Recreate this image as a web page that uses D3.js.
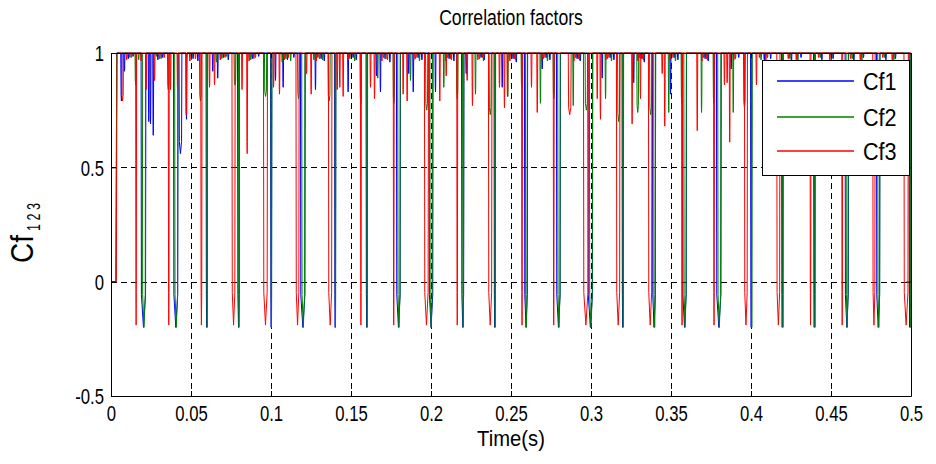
<!DOCTYPE html>
<html>
<head>
<meta charset="utf-8">
<title>Correlation factors</title>
<script src="https://d3js.org/d3.v7.min.js"></script>
<style>
  body { margin: 0; background: #fff; }
  text { font-family: "Liberation Sans", Arial, sans-serif; fill: #000; }
</style>
</head>
<body>
<div id="chart"></div>
<script>
// ---- data ----
var xTicks = [0, 0.05, 0.1, 0.15, 0.2, 0.25, 0.3, 0.35, 0.4, 0.45, 0.5];
var yTicks = [-0.5, 0, 0.5, 1];
var xTickLabels = ["0", "0.05", "0.1", "0.15", "0.2", "0.25", "0.3", "0.35", "0.4", "0.45", "0.5"];
var yTickLabels = ["-0.5", "0", "0.5", "1"];
var seriesNames = ["Cf1", "Cf2", "Cf3"];
var seriesColors = ["#0000ff", "#008000", "#ff0000"];

// every factor sits at 0 until this time, then jumps to 1
var startHold = [0.0031, 0.0031, 0.0033];

// deep dips [time, value, duration]
var cf1Deep = [[0.0188,-0.2,0.0030],[0.0391,-0.2,0.0028],[0.0594,-0.2,0.0008],[0.0791,-0.2,0.0012],
  [0.0997,-0.2,0.0008],[0.1184,-0.2,0.0030],[0.1397,-0.2,0.0008],[0.1594,-0.2,0.0008],[0.1784,-0.2,0.0025],
  [0.1988,-0.2,0.0025],[0.2191,-0.2,0.0015],[0.2394,-0.2,0.0008],[0.2584,-0.2,0.0020],[0.2784,-0.2,0.0025],
  [0.2981,-0.2,0.0030],[0.3194,-0.2,0.0008],[0.3384,-0.2,0.0020],[0.3572,-0.2,0.0025],[0.3784,-0.2,0.0030],
  [0.3997,-0.2,0.0008],[0.4191,-0.2,0.0008],[0.4391,-0.2,0.0008],[0.4588,-0.2,0.0022],[0.4784,-0.2,0.0022],
  [0.4988,-0.2,0.0008]];
var cf2Deep = [[0.0196,-0.2,0.0020],[0.0398,-0.2,0.0020],[0.0598,-0.2,0.0006],[0.0797,-0.2,0.0006],
  [0.1000,-0.2,0.0006],[0.1192,-0.2,0.0020],[0.1400,-0.2,0.0006],[0.1598,-0.2,0.0006],[0.1792,-0.2,0.0016],
  [0.1993,-0.2,0.0016],[0.2197,-0.2,0.0008],[0.2398,-0.2,0.0006],[0.2590,-0.2,0.0012],[0.2792,-0.2,0.0016],
  [0.2990,-0.2,0.0020],[0.3198,-0.2,0.0006],[0.3392,-0.2,0.0012],[0.3580,-0.2,0.0016],[0.3792,-0.2,0.0020],
  [0.4002,-0.2,0.0006],[0.4197,-0.2,0.0006],[0.4397,-0.2,0.0006],[0.4594,-0.2,0.0014],[0.4792,-0.2,0.0014],
  [0.4994,-0.2,0.0006]];
var cf3Deep = [[0.0154,-0.19,0.0006],[0.0358,-0.19,0.0006],[0.0561,-0.19,0.0008],[0.0756,-0.19,0.0020],
  [0.0953,-0.19,0.0025],[0.1156,-0.19,0.0020],[0.1359,-0.19,0.0022],[0.1559,-0.19,0.0006],[0.1764,-0.19,0.0006],
  [0.1959,-0.19,0.0025],[0.2161,-0.19,0.0006],[0.2359,-0.19,0.0022],[0.2566,-0.19,0.0006],[0.2764,-0.19,0.0006],
  [0.2953,-0.19,0.0030],[0.3159,-0.19,0.0022],[0.3359,-0.19,0.0022],[0.3566,-0.19,0.0006],[0.3766,-0.19,0.0006],
  [0.3959,-0.19,0.0019],[0.4161,-0.19,0.0020],[0.4369,-0.19,0.0006],[0.4567,-0.19,0.0006],[0.4761,-0.19,0.0015],
  [0.4956,-0.19,0.0027]];

// partial dips [time, value, duration]
var cf1Mid = [[0.0061,0.79,0.0008],[0.0081,0.92,0.0006],[0.0233,0.70,0.0006],[0.0244,0.69,0.0006],
  [0.0261,0.64,0.0006],[0.0425,0.56,0.0018],[0.0469,0.71,0.0006],[0.0633,0.92,0.0006],[0.0664,0.89,0.0006],
  [0.1025,0.88,0.0006],[0.1073,0.85,0.0006],[0.1275,0.84,0.0006],[0.1479,0.83,0.0006],[0.1656,0.90,0.0006],
  [0.1681,0.83,0.0006],[0.1858,0.91,0.0006],[0.1886,0.83,0.0006],[0.2025,0.83,0.0006],[0.2217,0.91,0.0006],
  [0.2442,0.85,0.0006],[0.2692,0.93,0.0006],[0.3067,0.89,0.0006],[0.3264,0.87,0.0006],[0.3494,0.82,0.0006],
  [0.3873,0.93,0.0006]];
var cf2Mid = [[0.0150,0.86,0.0010],[0.0353,0.84,0.0010],[0.0553,0.79,0.0012],[0.0656,0.96,0.0006],
  [0.0769,0.86,0.0012],[0.0959,0.81,0.0014],[0.1067,0.96,0.0006],[0.1166,0.80,0.0012],[0.1265,0.97,0.0006],
  [0.1356,0.79,0.0014],[0.1556,0.78,0.0010],[0.1664,0.89,0.0006],[0.1763,0.78,0.0010],[0.1869,0.88,0.0006],
  [0.1966,0.75,0.0014],[0.2077,0.85,0.0006],[0.2159,0.80,0.0010],[0.2275,0.82,0.0006],[0.2363,0.73,0.0014],
  [0.2477,0.81,0.0006],[0.2563,0.85,0.0010],[0.2681,0.78,0.0006],[0.2763,0.80,0.0010],[0.2886,0.77,0.0006],
  [0.2963,0.75,0.0016],[0.3088,0.80,0.0006],[0.3166,0.70,0.0014],[0.3286,0.74,0.0012],[0.3366,0.73,0.0014],
  [0.3483,0.74,0.0006],[0.3563,0.78,0.0010],[0.3688,0.74,0.0006],[0.3763,0.78,0.0010],[0.3886,0.74,0.0006],
  [0.3953,0.76,0.0012]];
var cf3Mid = [[0.0066,0.79,0.0012],[0.0217,0.84,0.0006],[0.0269,0.88,0.0006],[0.0369,0.84,0.0006],
  [0.0413,0.84,0.0006],[0.0467,0.73,0.0006],[0.0613,0.85,0.0006],[0.0644,0.86,0.0006],[0.0816,0.84,0.0006],
  [0.0848,0.56,0.0006],[0.1013,0.85,0.0006],[0.1050,0.82,0.0006],[0.1219,0.91,0.0006],[0.1248,0.82,0.0006],
  [0.1411,0.84,0.0006],[0.1427,0.85,0.0006],[0.1448,0.81,0.0006],[0.1619,0.85,0.0006],[0.1644,0.80,0.0006],
  [0.1823,0.82,0.0006],[0.1848,0.79,0.0006],[0.2052,0.79,0.0006],[0.2092,0.90,0.0006],[0.2223,0.88,0.0006],
  [0.2256,0.77,0.0006],[0.2425,0.85,0.0006],[0.2456,0.76,0.0006],[0.2475,0.81,0.0006],[0.2625,0.85,0.0006],
  [0.2661,0.74,0.0006],[0.2858,0.73,0.0018],[0.3036,0.80,0.0006],[0.3056,0.71,0.0006],[0.3254,0.69,0.0006],
  [0.3306,0.80,0.0006],[0.3442,0.91,0.0006],[0.3458,0.68,0.0006],[0.3661,0.66,0.0006],[0.3831,0.86,0.0006],
  [0.3848,0.87,0.0006],[0.3864,0.61,0.0006],[0.4031,0.86,0.0006]];

// small ripple along the top [time, value]
var cf1Ripple = [[0.0105,0.975],[0.0135,0.985],[0.0290,0.97],[0.0320,0.98],[0.0510,0.975],[0.0540,0.965],
  [0.0700,0.98],[0.0730,0.97],[0.0880,0.975],[0.0920,0.985],[0.1100,0.97],[0.1140,0.98],[0.1310,0.975],
  [0.1330,0.965],[0.1510,0.98],[0.1530,0.97],[0.1710,0.975],[0.1740,0.96],[0.1920,0.98],[0.1940,0.97],
  [0.2110,0.975],[0.2140,0.965],[0.2310,0.98],[0.2330,0.97],[0.2510,0.975],[0.2530,0.96],[0.2720,0.98],
  [0.2740,0.97],[0.2910,0.975],[0.2930,0.965],[0.3120,0.98],[0.3140,0.97],[0.3310,0.975],[0.3330,0.96],
  [0.3520,0.98],[0.3540,0.97],[0.3710,0.975],[0.3730,0.965],[0.3920,0.98],[0.4080,0.97],[0.4120,0.975],
  [0.4250,0.965],[0.4310,0.98],[0.4440,0.97],[0.4510,0.975],[0.4640,0.965],[0.4700,0.98],[0.4840,0.97],
  [0.4900,0.975]];
var cf2Ripple = [[0.0115,0.98],[0.0170,0.97],[0.0280,0.985],[0.0310,0.975],[0.0470,0.98],[0.0500,0.97],
  [0.0690,0.975],[0.0720,0.985],[0.0870,0.97],[0.0900,0.98],[0.1090,0.975],[0.1120,0.965],[0.1290,0.98],
  [0.1320,0.97],[0.1490,0.975],[0.1520,0.965],[0.1700,0.98],[0.1725,0.97],[0.1900,0.975],[0.1925,0.965],
  [0.2100,0.98],[0.2125,0.97],[0.2300,0.975],[0.2325,0.965],[0.2500,0.98],[0.2525,0.97],[0.2700,0.975],
  [0.2725,0.965],[0.2900,0.98],[0.2925,0.97],[0.3100,0.975],[0.3125,0.965],[0.3300,0.98],[0.3325,0.97],
  [0.3500,0.975],[0.3525,0.965],[0.3700,0.98],[0.3725,0.97],[0.3900,0.975],[0.4060,0.97],[0.4100,0.98],
  [0.4240,0.975],[0.4290,0.965],[0.4430,0.98],[0.4500,0.97],[0.4630,0.975],[0.4690,0.965],[0.4830,0.98],
  [0.4890,0.97]];
var cf3Ripple = [[0.0095,0.97],[0.0125,0.98],[0.0185,0.965],[0.0300,0.975],[0.0330,0.98],[0.0490,0.965],
  [0.0525,0.975],[0.0680,0.97],[0.0710,0.98],[0.0860,0.965],[0.0890,0.975],[0.1080,0.97],[0.1105,0.98],
  [0.1280,0.965],[0.1300,0.975],[0.1480,0.97],[0.1500,0.98],[0.1690,0.965],[0.1715,0.975],[0.1890,0.97],
  [0.1910,0.98],[0.2090,0.965],[0.2120,0.975],[0.2290,0.97],[0.2320,0.98],[0.2490,0.965],[0.2520,0.975],
  [0.2690,0.97],[0.2710,0.98],[0.2890,0.965],[0.2920,0.975],[0.3090,0.97],[0.3110,0.98],[0.3290,0.965],
  [0.3320,0.975],[0.3490,0.97],[0.3510,0.98],[0.3690,0.965],[0.3720,0.975],[0.3890,0.97],[0.4050,0.98],
  [0.4090,0.965],[0.4230,0.975],[0.4280,0.97],[0.4420,0.98],[0.4490,0.965],[0.4620,0.975],[0.4680,0.97],
  [0.4820,0.98],[0.4880,0.965]];

// ---- layout ----
var W = 936, H = 464;
var margin = {top: 53, right: 25, bottom: 68, left: 111};
var x = d3.scaleLinear().domain([0, 0.5]).range([margin.left, W - margin.right]);
var y = d3.scaleLinear().domain([-0.5, 1]).range([H - margin.bottom, margin.top]);
var squeeze = 0.76;   // the exported fonts are narrow

var svg = d3.select("#chart").append("svg")
  .attr("width", W)
  .attr("height", H);

svg.append("defs").append("clipPath").attr("id", "plotclip")
  .append("rect")
  .attr("x", x(0)).attr("y", y(1) - 1)
  .attr("width", x(0.5) - x(0)).attr("height", y(-0.5) - y(1) + 1);

// grid
var grid = svg.append("g");
grid.selectAll("line.vx").data(xTicks.slice(1, -1)).enter().append("line")
  .attr("x1", function(d){ return Math.round(x(d)) + 0.5; })
  .attr("x2", function(d){ return Math.round(x(d)) + 0.5; })
  .attr("y1", y(1)).attr("y2", y(-0.5))
  .attr("stroke", "#000").attr("stroke-dasharray", "6,4").attr("stroke-width", 1);
grid.selectAll("line.hy").data(yTicks.slice(1, -1)).enter().append("line")
  .attr("y1", function(d){ return Math.round(y(d)) + 0.5; })
  .attr("y2", function(d){ return Math.round(y(d)) + 0.5; })
  .attr("x1", x(0)).attr("x2", x(0.5))
  .attr("stroke", "#000").attr("stroke-dasharray", "6,4").attr("stroke-width", 1);

// build a trace from its dips
function buildTrace(hold, deep, mid, ripple) {
  var events = [];
  deep.concat(mid).forEach(function(d){ events.push({t: d[0], v: d[1], w: d[2]}); });
  ripple.forEach(function(d){ events.push({t: d[0], v: d[1], w: 0.0006}); });
  events.sort(function(a, b){ return a.t - b.t; });
  var pts = [[0, 0], [hold, 0], [hold + 0.0005, 1]];
  events.forEach(function(e){
    var wall = e.v + (1 - e.v) * 0.12;
    pts.push([e.t, 1]);
    pts.push([e.t + Math.min(0.0002, e.w * 0.3), wall]);
    pts.push([e.t + e.w / 2, e.v]);
    pts.push([e.t + e.w - Math.min(0.0002, e.w * 0.3), wall]);
    pts.push([e.t + e.w, 1]);
  });
  pts.push([0.5, 1]);
  return pts;
}

var traces = [
  buildTrace(startHold[0], cf1Deep, cf1Mid, cf1Ripple),
  buildTrace(startHold[1], cf2Deep, cf2Mid, cf2Ripple),
  buildTrace(startHold[2], cf3Deep, cf3Mid, cf3Ripple)
];

var line = d3.line()
  .x(function(d){ return x(d[0]); })
  .y(function(d){ return y(d[1]); });

svg.append("g").attr("clip-path", "url(#plotclip)")
  .selectAll("path").data(traces).enter().append("path")
  .attr("d", line)
  .attr("fill", "none")
  .attr("stroke", function(d, i){ return seriesColors[i]; })
  .attr("stroke-width", 1);

// axes box with inward ticks
var axisG = svg.append("g");
var xAxisG = axisG.append("g")
  .attr("transform", "translate(0," + y(-0.5) + ")")
  .call(d3.axisBottom(x).tickValues(xTicks).tickSizeInner(-5).tickSizeOuter(0).tickPadding(9)
    .tickFormat(function(d, i){ return xTickLabels[i]; }));
axisG.append("g")
  .attr("transform", "translate(0," + y(1) + ")")
  .call(d3.axisTop(x).tickValues(xTicks).tickSizeInner(-5).tickSizeOuter(0).tickFormat(""));
var yAxisG = axisG.append("g")
  .attr("transform", "translate(" + x(0) + ",0)")
  .call(d3.axisLeft(y).tickValues(yTicks).tickSizeInner(-5).tickSizeOuter(0).tickPadding(6)
    .tickFormat(function(d, i){ return yTickLabels[i]; }));
axisG.append("g")
  .attr("transform", "translate(" + x(0.5) + ",0)")
  .call(d3.axisRight(y).tickValues(yTicks).tickSizeInner(-5).tickSizeOuter(0).tickFormat(""));
axisG.selectAll("path.domain").attr("stroke", "#000");
axisG.selectAll(".tick line").attr("stroke", "#000");
axisG.selectAll(".tick text")
  .style("font-family", "'Liberation Sans', Arial, sans-serif")
  .style("font-size", "22px")
  .attr("fill", "#000");
xAxisG.selectAll(".tick text").attr("transform", "scale(" + squeeze + ",1)");
yAxisG.selectAll(".tick text")
  .attr("x", -7 / squeeze)
  .attr("dy", "0.36em")
  .attr("transform", "scale(" + squeeze + ",1)");

// title and axis labels
svg.append("text")
  .attr("transform", "translate(" + (x(0) + x(0.5)) / 2 + ",25) scale(0.8,1)")
  .attr("text-anchor", "middle")
  .style("font-size", "22px")
  .text("Correlation factors");

svg.append("text")
  .attr("transform", "translate(" + (x(0) + x(0.5)) / 2 + ",446) scale(0.92,1)")
  .attr("text-anchor", "middle")
  .style("font-size", "22px")
  .text("Time(s)");

svg.append("text")
  .attr("transform", "translate(33,263) rotate(-90) scale(0.9,1)")
  .attr("text-anchor", "start")
  .style("font-size", "31px")
  .text("Cf");
svg.append("text")
  .attr("transform", "translate(40,231) rotate(-90) scale(0.66,1)")
  .attr("text-anchor", "start")
  .style("font-size", "19px")
  .text("1 2 3");

// legend
var lg = svg.append("g").attr("transform", "translate(762,60)");
lg.append("rect")
  .attr("x", 0.5).attr("y", 0.5).attr("width", 147).attr("height", 115)
  .attr("fill", "#fff").attr("stroke", "#000");
var rowY = [21, 57, 91];
seriesNames.forEach(function(name, i){
  lg.append("line")
    .attr("x1", 15).attr("x2", 92).attr("y1", rowY[i]).attr("y2", rowY[i])
    .attr("stroke", seriesColors[i]).attr("stroke-width", 1.4);
  lg.append("text")
    .attr("transform", "translate(101," + (rowY[i] + 9) + ") scale(0.9,1)")
    .style("font-size", "24px")
    .text(name);
});
</script>
</body>
</html>
